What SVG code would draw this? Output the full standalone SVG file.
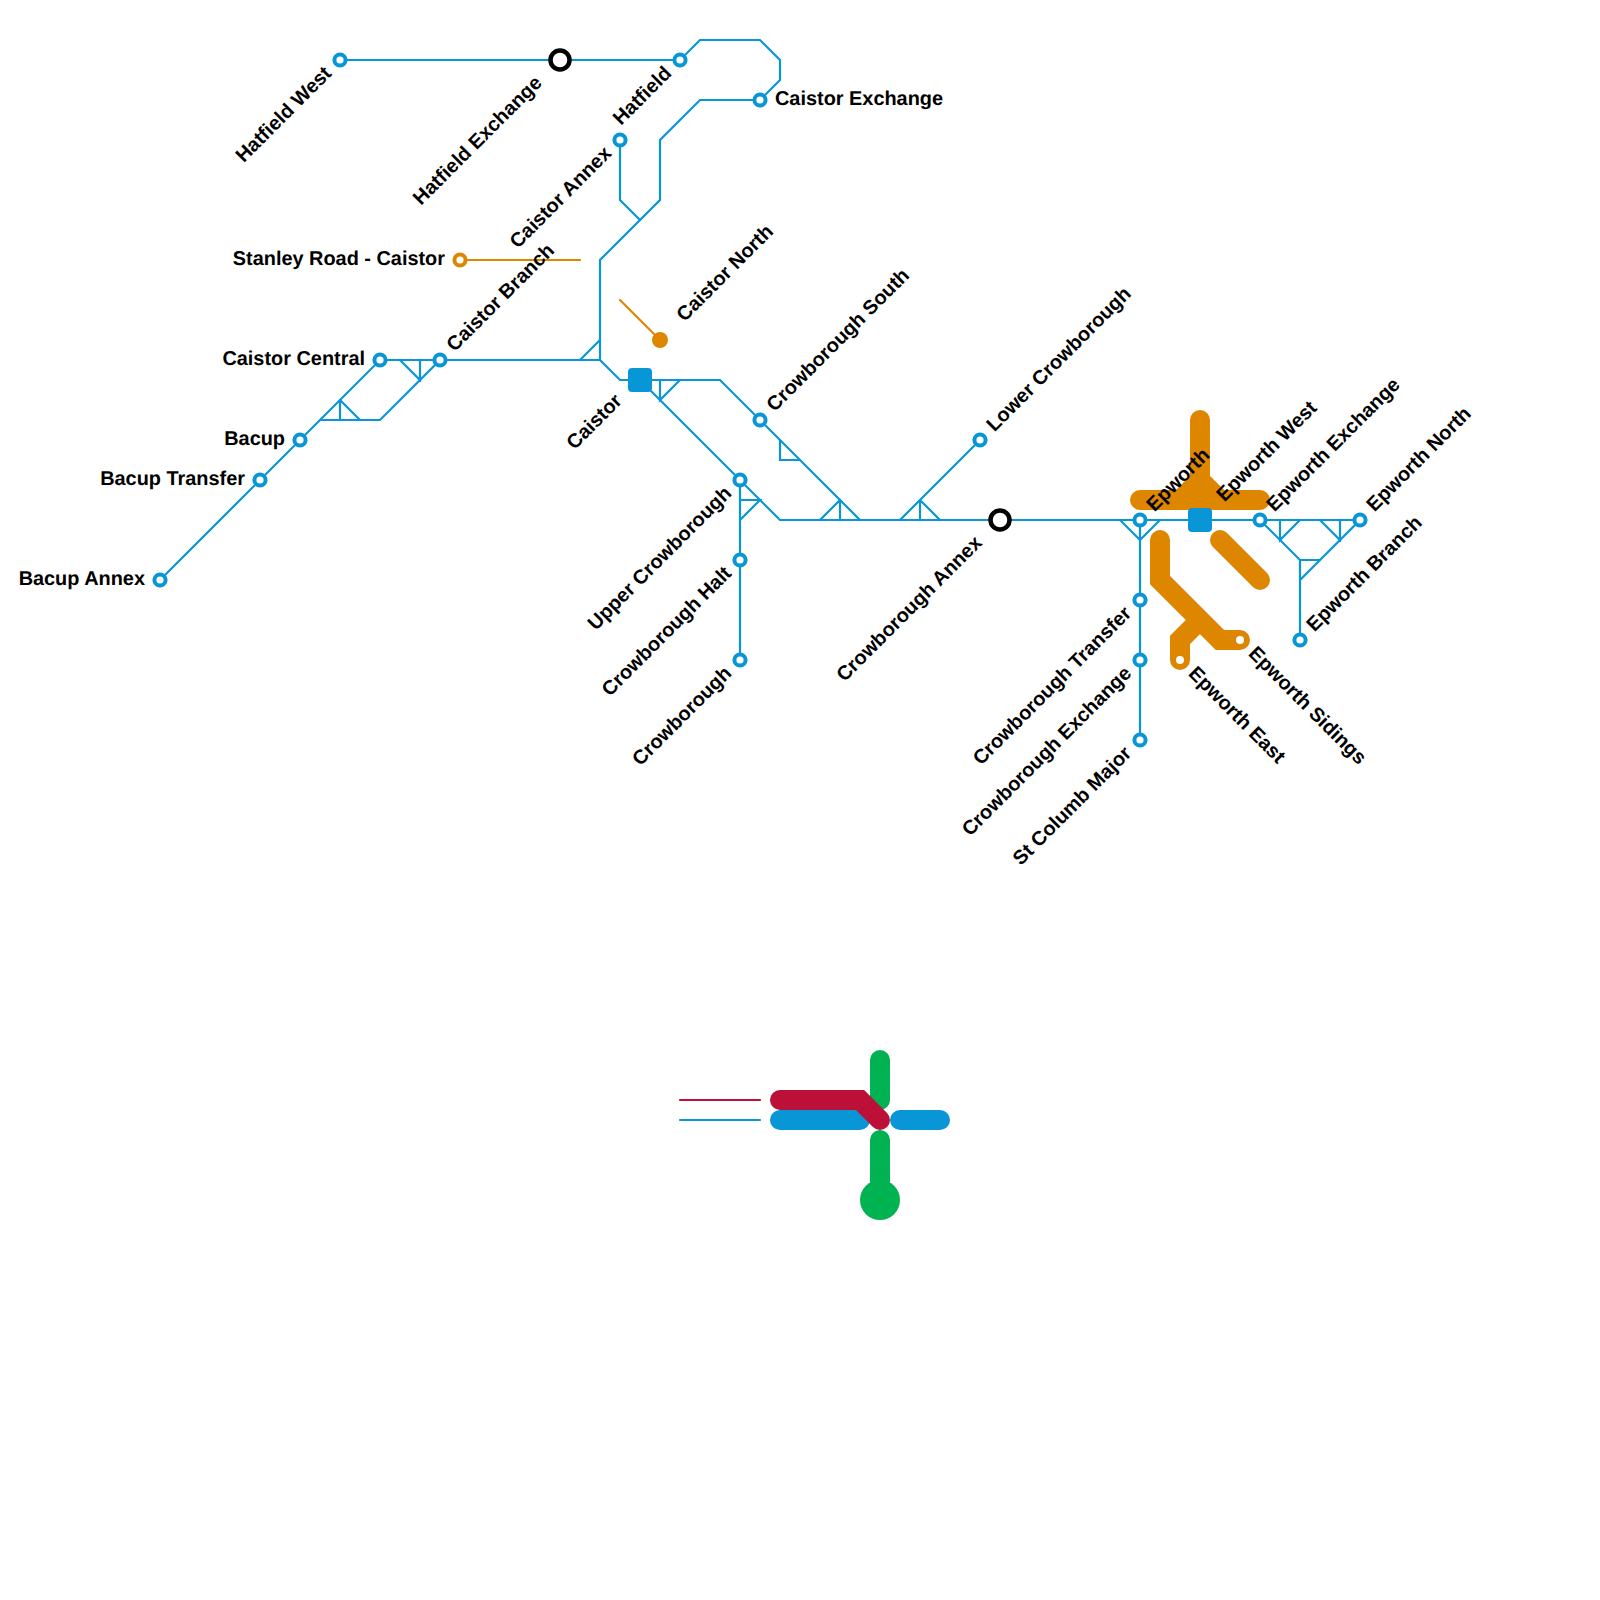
<svg xmlns="http://www.w3.org/2000/svg" width="1600" height="1600" viewBox="0 0 1600 1600">
<style>
.l{fill:none;stroke-linejoin:miter;stroke-linecap:round}
.b{stroke:#0896d7;stroke-width:2.2}
.o{stroke:#df8600;stroke-width:2.2}
.r{stroke:#bd1038;stroke-width:2.2}
.T{stroke-width:20}
.oT{stroke:#df8600}.bT{stroke:#0896d7}.rT{stroke:#bd1038}.gT{stroke:#00b251}
.s{fill:#fff;stroke:#0896d7;stroke-width:4}
.so{fill:#fff;stroke:#df8600;stroke-width:4}
.x{fill:#fff;stroke:#000;stroke-width:4.5}
.q{fill:#0896d7}
text{font-family:"Liberation Sans",Arial,sans-serif;font-weight:700;font-size:19.9px;fill:#000;text-rendering:geometricPrecision}
.e{text-anchor:end}
</style>
<g id="connectors">
<path class="l b" d="M340 60H680L700 40H760L780 60V80L760 100H700L660 140V200L600 260V360L620 380H720L860 520"/>
<path class="l b" d="M620 140V200L640 220"/>
<path class="l b" d="M160 580L380 360H440L380 420H320"/>
<path class="l b" d="M440 360H600M400 360L420 380V360M340 400V420M340 400L360 420M600 340L580 360"/>
<path class="l b" d="M640 380L780 520H1360L1300 580M1300 560V640M1260 520L1300 560H1320M660 380V400L680 380"/>
<path class="l b" d="M740 480V660M740 500H760L740 520"/>
<path class="l b" d="M780 440V460H800M840 500L820 520M840 500V520"/>
<path class="l b" d="M980 440L900 520M920 500V520M920 500L940 520"/>
<path class="l b" d="M1120 520L1140 540L1160 520M1140 520V740M1280 520V540L1300 520M1320 520L1340 540V520"/>
<path class="l o" d="M460 260H580M620 300L660 340"/>
<path class="l oT T" d="M1200 420V500M1140 500H1260M1200 480L1180 500M1200 480L1220 500"/>
<path class="l oT T" d="M1220 540L1260 580"/>
<path class="l oT T" d="M1160 540V580L1220 640H1240M1200 620L1180 640V660"/>
<path class="l r" d="M680 1100H760"/>
<path class="l b" d="M680 1120H760"/>
<path class="l bT T" d="M780 1120H860M900 1120H940"/>
<path class="l gT T" d="M880 1060V1100M880 1140V1200"/>
<path class="l rT T" d="M780 1100H860L880 1120"/>
</g>
<g id="legend-terminus"><circle cx="880" cy="1200" r="20" fill="#00b251"/></g>
<g id="n1"><circle class="s" cx="340" cy="60" r="5.6"/><text class="e" transform="translate(332.5 74.5) rotate(-45)">Hatfield West</text></g>
<g id="n2"><circle class="x" cx="560" cy="60" r="9.5"/><text class="e" transform="translate(543 84) rotate(-45)">Hatfield Exchange</text></g>
<g id="n3"><circle class="s" cx="680" cy="60" r="5.6"/><text class="e" transform="translate(672.5 74.5) rotate(-45)">Hatfield</text></g>
<g id="n4"><circle class="s" cx="760" cy="100" r="5.6"/><text x="775" y="105">Caistor Exchange</text></g>
<g id="n5"><circle class="s" cx="620" cy="140" r="5.6"/><text class="e" transform="translate(612.5 154.5) rotate(-45)">Caistor Annex</text></g>
<g id="n6"><circle class="so" cx="460" cy="260" r="5.6"/><text class="e" x="445" y="265">Stanley Road - Caistor</text></g>
<g id="n7"><circle cx="660" cy="340" r="8" fill="#df8600"/><text transform="translate(684.5 322.5) rotate(-45)">Caistor North</text></g>
<g id="n8"><circle class="s" cx="380" cy="360" r="5.6"/><text class="e" x="365" y="365">Caistor Central</text></g>
<g id="n9"><circle class="s" cx="440" cy="360" r="5.6"/><text transform="translate(454.5 352.5) rotate(-45)">Caistor Branch</text></g>
<g id="n10"><rect class="q" x="628" y="368" width="24" height="24" rx="4"/><text class="e" transform="translate(623 402) rotate(-45)">Caistor</text></g>
<g id="n11"><circle class="s" cx="300" cy="440" r="5.6"/><text class="e" x="285" y="445">Bacup</text></g>
<g id="n12"><circle class="s" cx="260" cy="480" r="5.6"/><text class="e" x="245" y="485">Bacup Transfer</text></g>
<g id="n13"><circle class="s" cx="160" cy="580" r="5.6"/><text class="e" x="145" y="585">Bacup Annex</text></g>
<g id="n14"><circle class="s" cx="760" cy="420" r="5.6"/><text transform="translate(774.5 412.5) rotate(-45)">Crowborough South</text></g>
<g id="n15"><circle class="s" cx="980" cy="440" r="5.6"/><text transform="translate(994.5 432.5) rotate(-45)">Lower Crowborough</text></g>
<g id="n16"><circle class="s" cx="740" cy="480" r="5.6"/><text class="e" transform="translate(732.5 494.5) rotate(-45)">Upper Crowborough</text></g>
<g id="n17"><circle class="s" cx="740" cy="560" r="5.6"/><text class="e" transform="translate(732.5 574.5) rotate(-45)">Crowborough Halt</text></g>
<g id="n18"><circle class="s" cx="740" cy="660" r="5.6"/><text class="e" transform="translate(732.5 674.5) rotate(-45)">Crowborough</text></g>
<g id="n19"><circle class="x" cx="1000" cy="520" r="9.5"/><text class="e" transform="translate(983 544) rotate(-45)">Crowborough Annex</text></g>
<g id="n20"><circle class="s" cx="1140" cy="520" r="5.6"/><text transform="translate(1154.5 512.5) rotate(-45)">Epworth</text></g>
<g id="n21"><circle class="s" cx="1140" cy="600" r="5.6"/><text class="e" transform="translate(1132.5 614.5) rotate(-45)">Crowborough Transfer</text></g>
<g id="n22"><circle class="s" cx="1140" cy="660" r="5.6"/><text class="e" transform="translate(1132.5 674.5) rotate(-45)">Crowborough Exchange</text></g>
<g id="n23"><circle class="s" cx="1140" cy="740" r="5.6"/><text class="e" transform="translate(1132.5 754.5) rotate(-45)">St Columb Major</text></g>
<g id="n24"><rect class="q" x="1188" y="508" width="24" height="24" rx="4"/><text transform="translate(1224.5 502.5) rotate(-45)">Epworth West</text></g>
<g id="n25"><circle class="s" cx="1260" cy="520" r="5.6"/><text transform="translate(1274.5 512.5) rotate(-45)">Epworth Exchange</text></g>
<g id="n26"><circle class="s" cx="1360" cy="520" r="5.6"/><text transform="translate(1374.5 512.5) rotate(-45)">Epworth North</text></g>
<g id="n27"><circle class="s" cx="1300" cy="640" r="5.6"/><text transform="translate(1314.5 632.5) rotate(-45)">Epworth Branch</text></g>
<g id="n28"><circle cx="1240" cy="640" r="4" fill="#fff"/><text transform="translate(1247.5 654.5) rotate(45)">Epworth Sidings</text></g>
<g id="n29"><circle cx="1180" cy="660" r="4" fill="#fff"/><text transform="translate(1187.5 674.5) rotate(45)">Epworth East</text></g>
</svg>
